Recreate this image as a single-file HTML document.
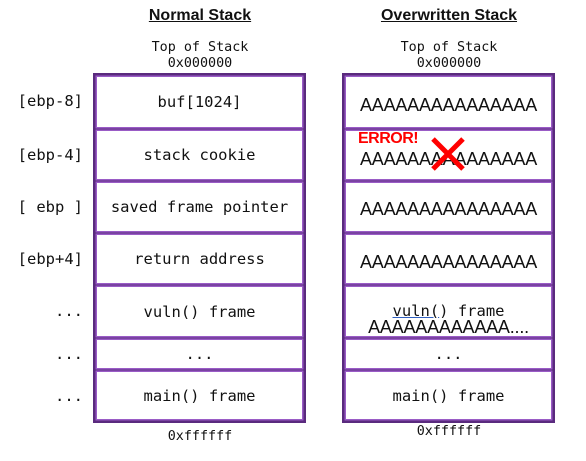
<!DOCTYPE html>
<html><head><style>
body{margin:0;width:586px;height:461px;background:#fff;position:relative;overflow:hidden;font-family:"DejaVu Sans Mono","Liberation Mono",monospace;color:#111}
.a{position:absolute;white-space:nowrap}
.t{font-family:"Liberation Sans",sans-serif;font-weight:bold;font-size:16px;text-decoration:underline;width:220px;text-align:center}
.m{font-size:13.4px;text-align:center;line-height:16px}
.box{position:absolute;top:73px;height:350px;width:213px;background:#5a2a7e}
.c{position:absolute;left:4px;right:4px;background:#fff;display:flex;align-items:center;justify-content:center;font-size:15.5px;box-shadow:0 0 0 1.5px #9a5cc6}
.L{font-size:15.5px;text-align:right;width:80px;left:3px}
.A{font-family:"Liberation Sans",sans-serif;font-size:18px;letter-spacing:-0.2px}
</style></head><body>
<div class="a t" style="left:90px;top:7px">Normal Stack</div>
<div class="a t" style="left:339px;top:7px">Overwritten Stack</div>
<div class="a m" style="left:100px;top:40px;width:200px">Top of Stack<br>0x000000</div>
<div class="a m" style="left:349px;top:40px;width:200px">Top of Stack<br>0x000000</div>

<div class="a L" style="top:92px">[ebp-8]</div>
<div class="a L" style="top:146px">[ebp-4]</div>
<div class="a L" style="top:198px">[ ebp ]</div>
<div class="a L" style="top:250px">[ebp+4]</div>
<div class="a L" style="top:302px">...</div>
<div class="a L" style="top:345px">...</div>
<div class="a L" style="top:387px">...</div>

<div class="box" style="left:93px">
<div class="c" style="top:4px;height:50px">buf[1024]</div>
<div class="c" style="top:58px;height:48px">stack cookie</div>
<div class="c" style="top:110px;height:48px">saved frame pointer</div>
<div class="c" style="top:162px;height:48px">return address</div>
<div class="c" style="top:214px;height:49px">vuln() frame</div>
<div class="c" style="top:267px;height:28px">...</div>
<div class="c" style="top:299px;height:47px">main() frame</div>
</div>

<div class="box" style="left:342px">
<div class="c A" style="top:4px;height:50px;padding-top:6px;box-sizing:border-box">AAAAAAAAAAAAAAA</div>
<div class="c A" style="top:58px;height:48px;padding-top:8px;box-sizing:border-box">AAAAAAAAAAAAAAA</div>
<div class="c A" style="top:110px;height:48px;padding-top:4px;box-sizing:border-box">AAAAAAAAAAAAAAA</div>
<div class="c A" style="top:162px;height:48px;padding-top:6px;box-sizing:border-box">AAAAAAAAAAAAAAA</div>
<div class="c" style="top:214px;height:49px;overflow:hidden;display:block">
 <div class="a" style="left:0;right:0;top:15px;text-align:center;font-size:15.5px"><span style="text-decoration:underline;text-decoration-color:#3060c0">vuln(</span>) frame</div>
 <div class="a A" style="left:0;right:0;top:30px;text-align:center">AAAAAAAAAAAA....</div>
</div>
<div class="c" style="top:267px;height:28px">...</div>
<div class="c" style="top:299px;height:47px">main() frame</div>
</div>
<div class="a" style="left:358px;top:130px;font-family:'Liberation Sans',sans-serif;font-weight:bold;font-size:16px;color:#f00;letter-spacing:-0.5px">ERROR!</div>
<svg class="a" style="left:428px;top:134px" width="40" height="40"><path d="M5 5L35 35M35 5L5 35" stroke="#f00" stroke-width="5"/></svg>

<div class="a m" style="left:100px;top:429px;width:200px">0xffffff</div>
<div class="a m" style="left:349px;top:424px;width:200px">0xffffff</div>
</body></html>
